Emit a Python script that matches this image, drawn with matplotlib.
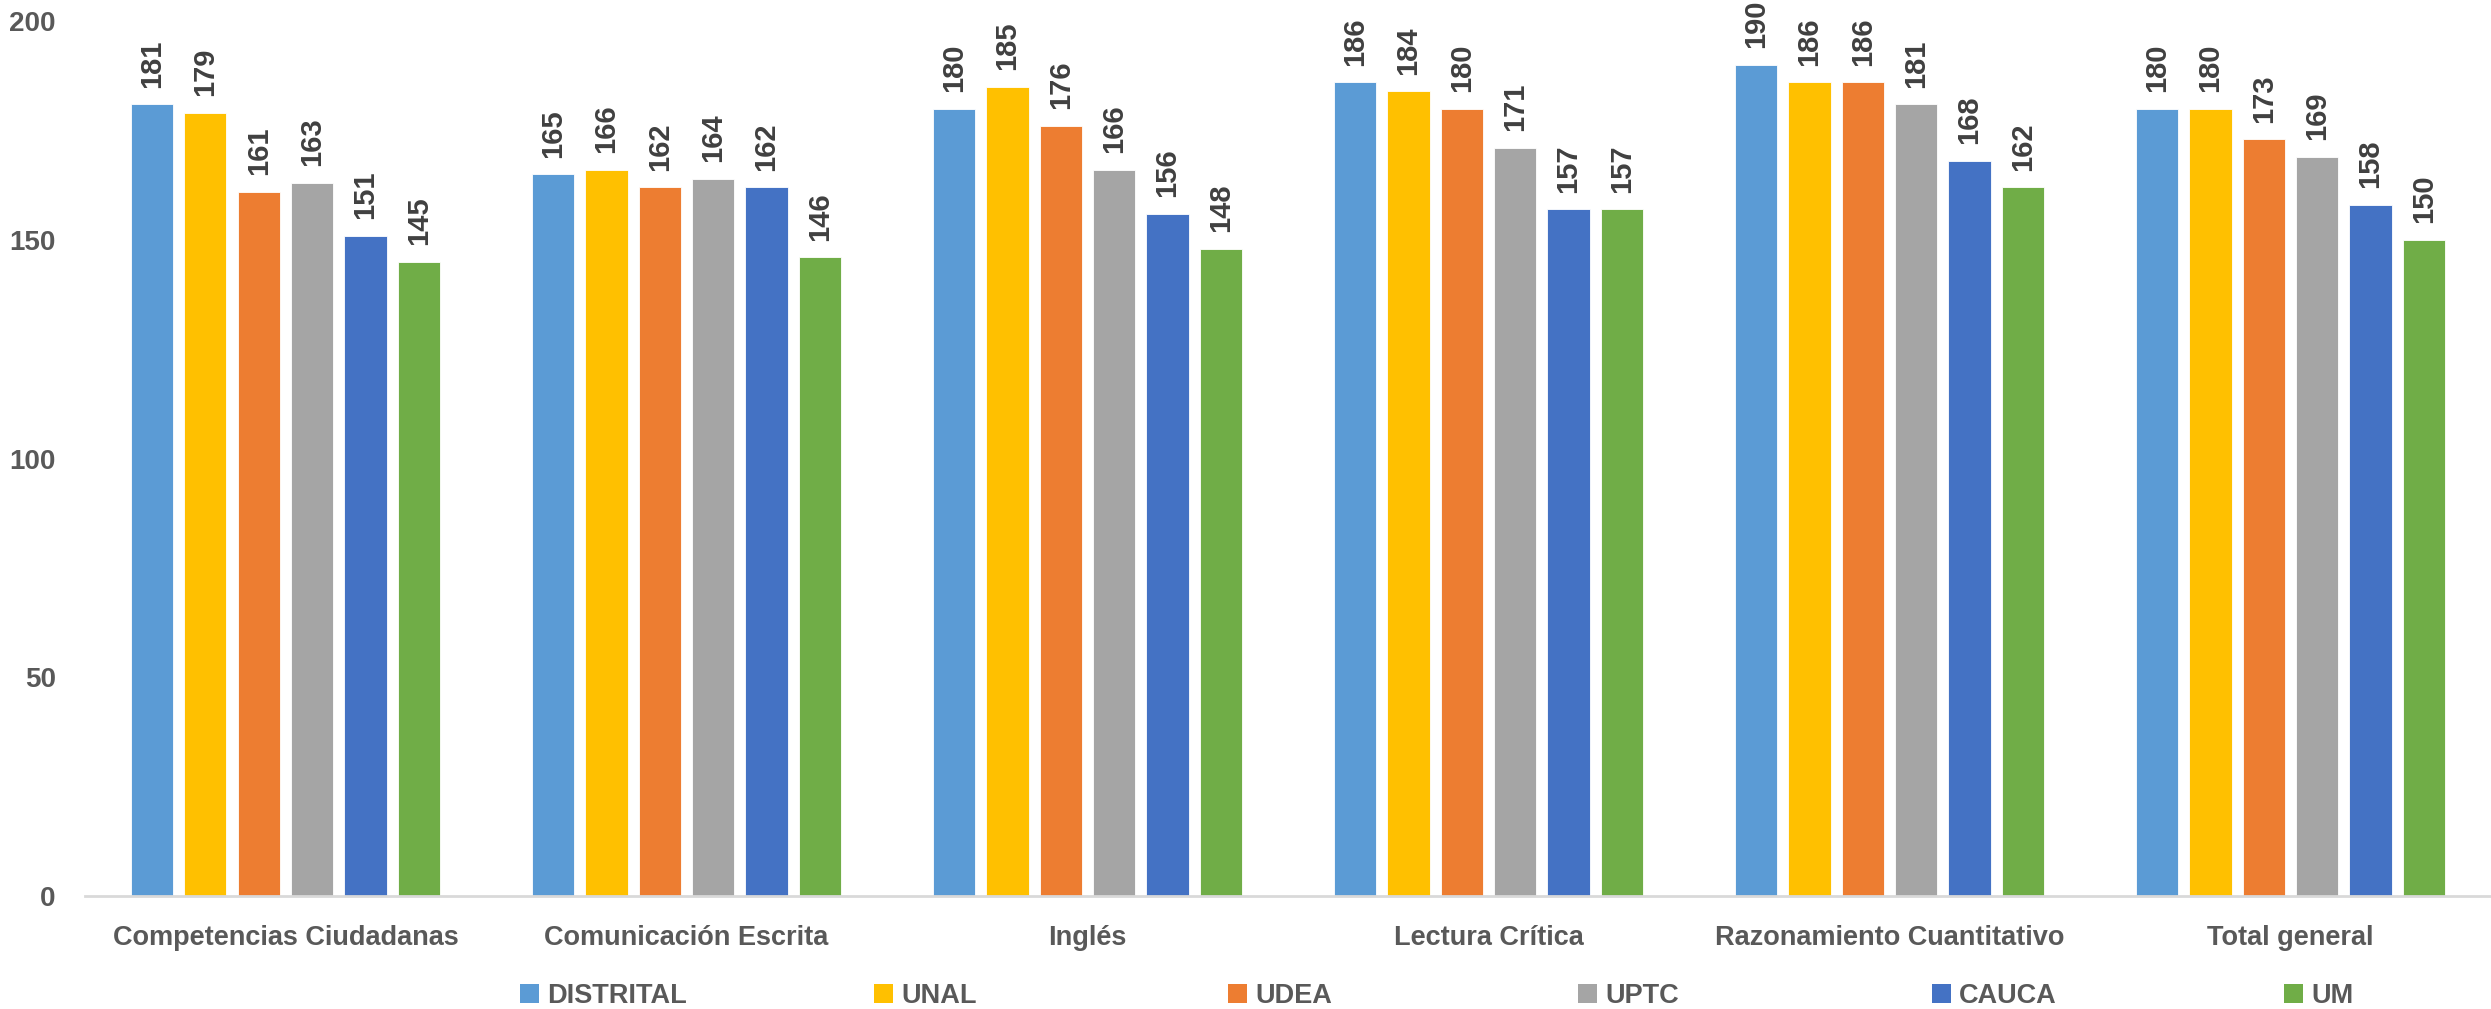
import matplotlib.pyplot as plt
from matplotlib.patches import Patch
import numpy as np

categorias = ['Competencias Ciudadanas', 'Comunicación Escrita', 'Inglés',
              'Lectura Crítica', 'Razonamiento Cuantitativo', 'Total general']
universidades = ['DISTRITAL', 'UNAL', 'UDEA', 'UPTC', 'CAUCA', 'UM']
colores = ['#5B9BD5', '#FFC000', '#ED7D31', '#A5A5A5', '#4472C4', '#70AD47']

distrital = [181, 165, 180, 186, 190, 180]
unal = [179, 166, 185, 184, 186, 180]
udea = [161, 162, 176, 180, 186, 173]
uptc = [163, 164, 166, 171, 181, 169]
cauca = [151, 162, 156, 157, 168, 158]
um = [145, 146, 148, 157, 162, 150]
series = [distrital, unal, udea, uptc, cauca, um]

FUENTE = ['Liberation Sans Narrow', 'Liberation Sans', 'DejaVu Sans']
plt.rcParams['font.family'] = FUENTE
plt.rcParams['font.weight'] = 'bold'

fig = plt.figure(figsize=(24.91, 10.09), dpi=100)
ax = fig.add_axes([0.0341, 0.112, 0.9659, 0.867])

x = np.arange(len(categorias))
paso = 0.133
ancho = 0.105
for j, (nombre, valores, color) in enumerate(zip(universidades, series, colores)):
    pos = x + (j - 2.5) * paso
    ax.bar(pos, valores, width=ancho, color=color, edgecolor='white', linewidth=0.6)
    for xp, v in zip(pos, valores):
        ax.annotate(str(v), (xp, v), xytext=(0, 12), textcoords='offset points',
                    rotation=90, ha='center', va='bottom', fontsize=21,
                    fontweight='bold', color='#404040', annotation_clip=False)

ax.set_xlim(-0.5, len(categorias) - 0.5)
ax.set_ylim(0, 200)
ax.set_yticks([0, 50, 100, 150, 200])
ax.set_xticks(x)
ax.set_xticklabels(categorias)
ax.tick_params(axis='y', length=0, pad=21, labelsize=20, labelcolor='#595959')
ax.tick_params(axis='x', length=0, pad=21, labelsize=19.5, labelcolor='#595959')
for lab in ax.get_xticklabels() + ax.get_yticklabels():
    lab.set_fontweight('bold')
for s in ['left', 'right', 'top']:
    ax.spines[s].set_visible(False)
ax.spines['bottom'].set_color('#D9D9D9')
ax.spines['bottom'].set_linewidth(2)

# leyenda: una entrada por universidad, espaciadas igual
pos_leyenda = [520, 874, 1228, 1578, 1932, 2284]
for nombre, color, px in zip(universidades, colores, pos_leyenda):
    fig.legend([Patch(facecolor=color)], [nombre], loc='center left',
               bbox_to_anchor=(px / 2491, 1 - 996 / 1009), frameon=False,
               handlelength=0.7, handleheight=0.7,
               handletextpad=0.3, borderpad=0, borderaxespad=0,
               labelcolor='#595959', prop={'weight': 'bold', 'size': 19.5})

fig.savefig('out.png', dpi=100)
